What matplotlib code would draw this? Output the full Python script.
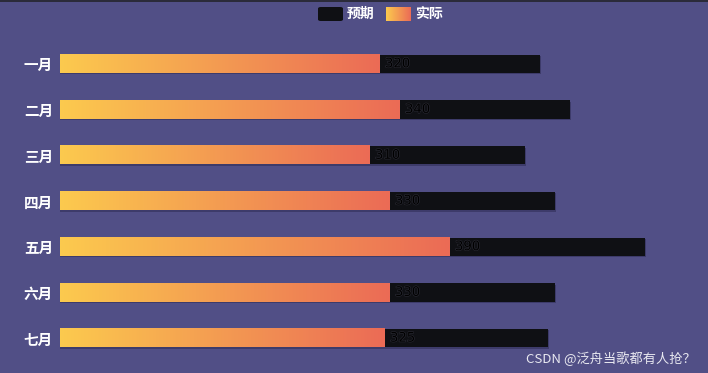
import matplotlib
matplotlib.use("Agg")
import matplotlib.pyplot as plt
import matplotlib.patheffects as pe
import numpy as np
from matplotlib.colors import LinearSegmentedColormap
from matplotlib.patches import FancyBboxPatch, Rectangle

plt.rcParams['font.family'] = ['Noto Sans CJK SC', 'DejaVu Sans']

categories = ['一月', '二月', '三月', '四月', '五月', '六月', '七月']
expected = [480, 510, 465, 495, 585, 495, 487.5]
actual = [320, 340, 310, 330, 390, 330, 325]
legend_labels = ['预期', '实际']

BG = '#514f86'
DARK = '#0f1014'
cmap = LinearSegmentedColormap.from_list('g', ['#fcca4e', '#eb6b56'])

W, H = 708, 373
fig = plt.figure(figsize=(W / 100, H / 100), dpi=100, facecolor=BG)
ax = fig.add_axes([60 / W, (H - 361) / H, 600 / W, 320 / H])
ax.set_facecolor(BG)

bh = 0.4
ys = np.arange(len(categories))
grad = np.linspace(0, 1, 256).reshape(1, -1)
for y, e, a in zip(ys, expected, actual):
    # shadow
    ax.add_patch(Rectangle((0, y - bh / 2 + 0.03), e + 1, bh, color='#2a2850', alpha=0.5, zorder=1, lw=0))
    ax.barh(y, e, height=bh, color=DARK, zorder=2)
    ax.imshow(grad, cmap=cmap, extent=[0, a, y + bh / 2, y - bh / 2], aspect='auto', zorder=3,
              interpolation='bilinear')
    ax.text(a + 5, y, f'{a:g}', color='#000000', fontsize=9.5, va='center', ha='left', zorder=4,
            family=['DejaVu Sans'],
            path_effects=[pe.withStroke(linewidth=0.8, foreground='#2c2c36')])

ax.set_xlim(0, 600)
ax.set_ylim(len(categories) - 0.5, -0.5)
ax.set_yticks(ys)
ax.set_yticklabels(categories, color='white', fontsize=10.5, fontweight='bold')
ax.tick_params(axis='y', length=0, pad=5)
ax.set_xticks([])
for s in ax.spines.values():
    s.set_visible(False)

# top dark line
fig.add_artist(Rectangle((0, 1 - 2 / H), 1, 2 / H, transform=fig.transFigure, color='#2b2b3a', lw=0))

# legend
def fx(px):
    return px / W

def fy(py):
    return 1 - py / H

fig.add_artist(FancyBboxPatch((fx(318), fy(21)), fx(25), 14 / H, boxstyle='round,pad=0,rounding_size=0.004',
                              transform=fig.transFigure, color=DARK, lw=0))
fig.text(fx(347), fy(14), legend_labels[0], color='white', fontsize=10, fontweight='bold', va='center', ha='left')
lax = fig.add_axes([fx(386), fy(21), fx(25), 14 / H])
lax.imshow(grad, cmap=cmap, aspect='auto', extent=[0, 1, 0, 1])
lax.axis('off')
fig.text(fx(415), fy(14), legend_labels[1], color='white', fontsize=10, fontweight='bold', va='center', ha='left')

fig.text(fx(696), fy(359), 'CSDN @泛舟当歌都有人抢？', color='#e8e8f0', fontsize=9.5, ha='right', va='center')

fig.savefig('out.png', dpi=100, facecolor=BG)
